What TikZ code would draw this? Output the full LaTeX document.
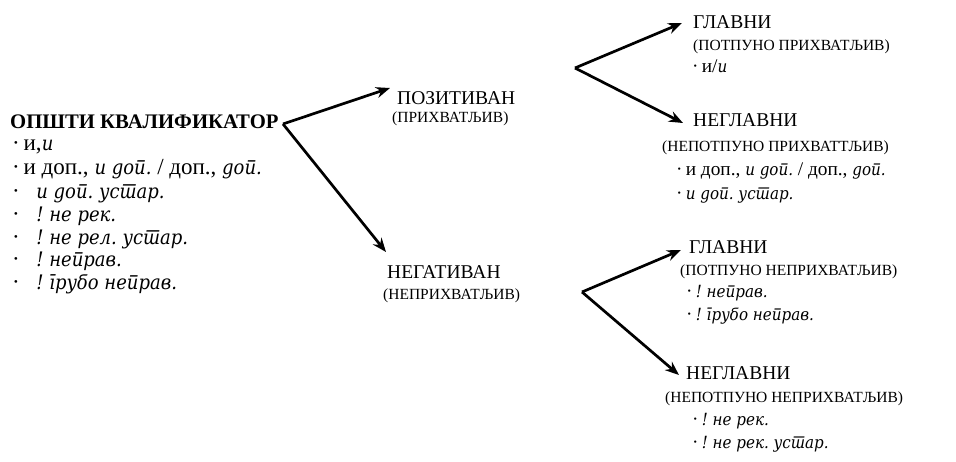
\documentclass[tikz,border=0pt]{standalone}
\usepackage{fontspec}
\setmainfont{Liberation Serif}[Script=Cyrillic,Language=Serbian]
\newfontfamily\srbit{DejaVu Serif Condensed}[Script=Cyrillic,Language=Serbian,Scale=0.87]
\usepackage{tikz}
\usetikzlibrary{arrows.meta}
\frenchspacing

\newcommand{\kit}[1]{{\srbit\itshape #1}}
\newcommand{\kdot}{\makebox[0.5em][l]{\textperiodcentered}}
\newcommand{\kdotw}{\makebox[1.05em][l]{\textperiodcentered}}

\tikzset{
  arr/.style={line width=2.7pt, -{Stealth[length=14pt,width=11pt]}},
  ttl/.style={anchor=base west, inner sep=0pt, font=\fontsize{20.7}{24}\selectfont\bfseries},
  lbl/.style={anchor=base west, inner sep=0pt, font=\fontsize{19.5}{22}\selectfont},
  sub/.style={anchor=base west, inner sep=0pt, font=\fontsize{15.5}{18}\selectfont},
  itm/.style={anchor=base west, inner sep=0pt, font=\fontsize{23}{25}\selectfont},
  itr/.style={anchor=base west, inner sep=0pt, font=\fontsize{19.3}{21}\selectfont}
}

\begin{document}
\begin{tikzpicture}[x=1pt,y=-1pt]
\useasboundingbox (0,0) rectangle (956,462);

% general qualifier
\node[ttl] (opsti) at (10,129) {ОПШТИ КВАЛИФИКАТОР};
\node[itm] (o1) at (12,151) {\kdot и,\kit{и}};
\node[itm] (o2) at (12,175) {\kdot и доп., \kit{и доп.} / доп., \kit{доп.}};
\node[itm] (o3) at (12,199) {\kdotw\kit{и доп. устар.}};
\node[itm] (o4) at (12,222) {\kdotw\kit{! не рек.}};
\node[itm] (o5) at (12,245) {\kdotw\kit{! не рел. устар.}};
\node[itm] (o6) at (12,267) {\kdotw\kit{! неправ.}};
\node[itm] (o7) at (12,290) {\kdotw\kit{! грубо неправ.}};

% middle
\node[lbl] (poz) at (397,105) {ПОЗИТИВАН};
\node[sub] (pozs) at (392,123) {(ПРИХВАТЉИВ)};
\node[lbl] (neg) at (387,279) {НЕГАТИВАН};
\node[sub] (negs) at (383,300) {(НЕПРИХВАТЉИВ)};

% right, positive
\node[lbl] (pgl) at (693,29) {ГЛАВНИ};
\node[sub] (pgls) at (693,51) {(ПОТПУНО ПРИХВАТЉИВ)};
\node[itr] (pgl1) at (692,73) {\kdot и/\kit{и}};
\node[lbl] (png) at (693,127) {НЕГЛАВНИ};
\node[sub] (pngs) at (662,152) {(НЕПОТПУНО ПРИХВАТТЉИВ)};
\node[itr] (png1) at (676,176) {\kdot и доп., \kit{и доп.} / доп., \kit{доп.}};
\node[itr] (png2) at (676,200) {\kdot\kit{и доп. устар.}};

% right, negative
\node[lbl] (ngl) at (689,254) {ГЛАВНИ};
\node[sub] (ngls) at (680,276) {(ПОТПУНО НЕПРИХВАТЉИВ)};
\node[itr] (ngl1) at (686,298) {\kdot\kit{! неправ.}};
\node[itr] (ngl2) at (686,321) {\kdot\kit{! грубо неправ.}};
\node[lbl] (nng) at (686,379) {НЕГЛАВНИ};
\node[sub] (nngs) at (665,402) {(НЕПОТПУНО НЕПРИХВАТЉИВ)};
\node[itr] (nng1) at (692,425) {\kdot\kit{! не рек.}};
\node[itr] (nng2) at (692,448) {\kdot\kit{! не рек. устар.}};

% arrows
\coordinate (v1) at (283,124);
\coordinate (t1) at (390,88);
\coordinate (t2) at (386,252);
\coordinate (v2) at (575,68);
\coordinate (t3) at (682,23);
\coordinate (t4) at (683,123);
\coordinate (v3) at (582,292);
\coordinate (t5) at (681,250);
\coordinate (t6) at (679,375);

\draw[arr] (v1) -- (t1);
\draw[arr] (v1) -- (t2);
\draw[arr] (v2) -- (t3);
\draw[arr] (v2) -- (t4);
\draw[arr] (v3) -- (t5);
\draw[arr] (v3) -- (t6);

\end{tikzpicture}
\end{document}
